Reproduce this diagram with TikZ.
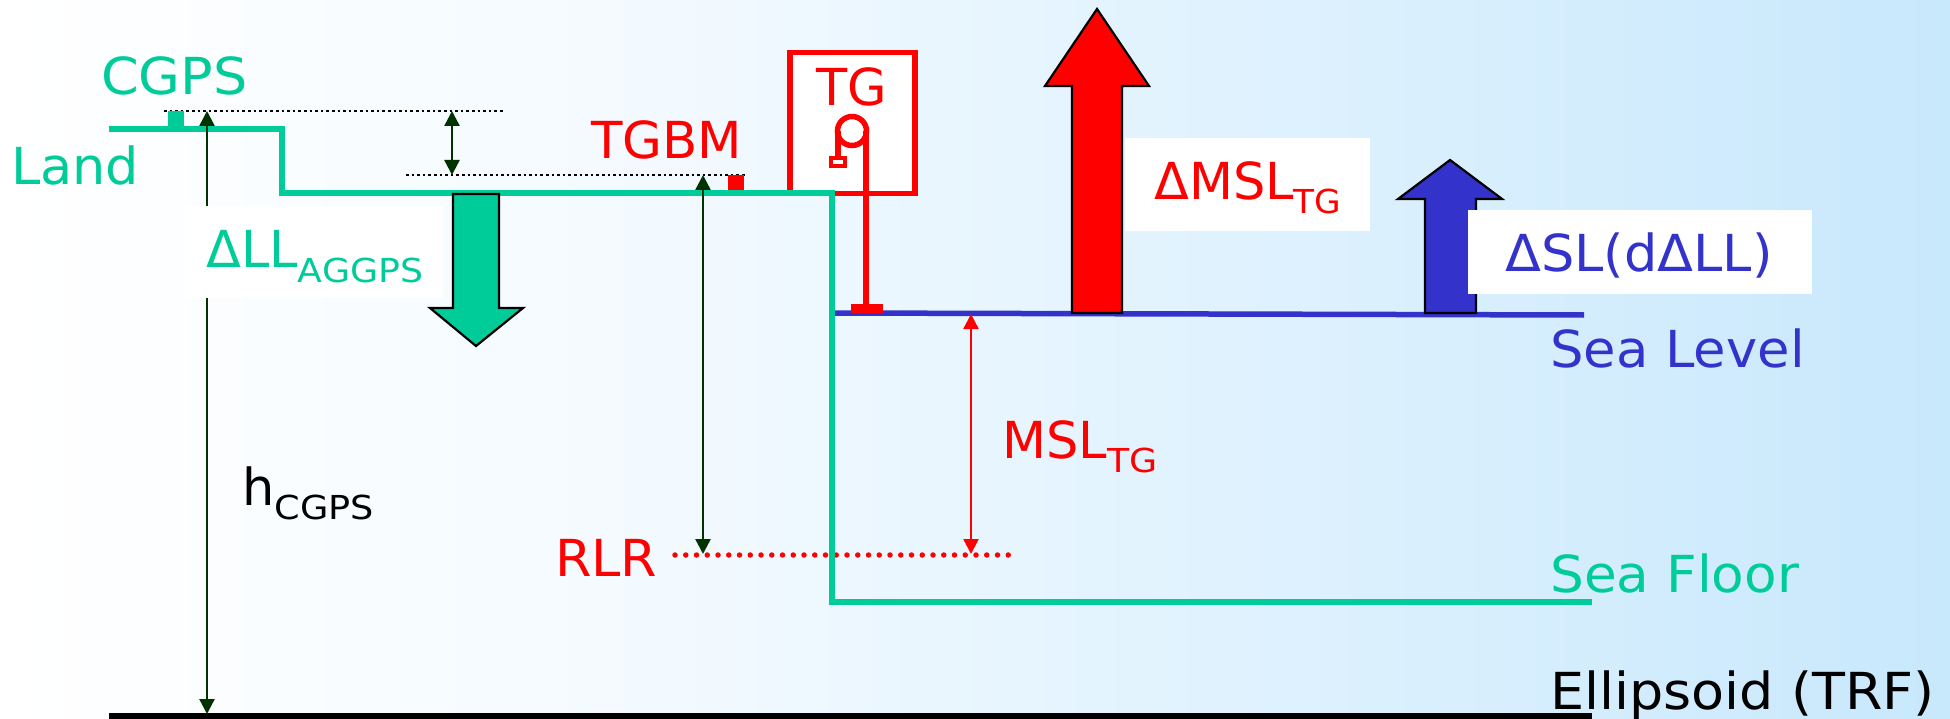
\documentclass[tikz,border=0pt]{standalone}
\usepackage{fontspec}
\setmainfont{DejaVu Sans}
\usetikzlibrary{arrows.meta}
\definecolor{sgreen}{HTML}{00CC99}
\definecolor{sblue}{HTML}{3333CC}
\definecolor{sred}{HTML}{FF0000}
\definecolor{sdark}{HTML}{003300}
\definecolor{b0}{HTML}{FFFFFF}
\definecolor{b1}{HTML}{F3FAFF}
\definecolor{b2}{HTML}{E2F3FE}
\definecolor{b3}{HTML}{C8E8FC}
\newcommand{\bigt}{\fontsize{51}{51}\selectfont}
\newcommand{\subt}[2][1.06]{\raisebox{-14pt}{\scalebox{#1}[1]{\fontsize{33}{33}\selectfont #2}}}
\newcommand{\sx}[2]{\scalebox{#1}[1]{#2}}
\tikzset{
  lbl/.style={anchor=base west,inner sep=0pt,font=\bigt},
  groundline/.style={draw=sgreen,line width=5.5pt,line join=miter},
  bigarrow/.style={draw=black,line width=2.2pt,line join=miter},
  dimdark/.style={draw=sdark,line width=2.4pt,{Triangle[length=15pt,width=15pt]}-{Triangle[length=15pt,width=15pt]}},
  dimred/.style={draw=sred,line width=2.4pt,{Triangle[length=15pt,width=15pt]}-{Triangle[length=15pt,width=15pt]}},
  datum/.style={draw=black,line width=2.5pt,dash pattern=on 2.5pt off 3.1pt},
  patch/.style={fill=white,draw=none},
}
\begin{document}
\begin{tikzpicture}[x=1pt,y=-1pt]
\useasboundingbox (0,0) rectangle (1950,719);
% background
\fill[left color=b0,right color=b1] (0,0) rectangle (650,719);
\fill[left color=b1,right color=b2] (650,0) rectangle (1150,719);
\fill[left color=b2,right color=b3] (1150,0) rectangle (1950,719);
% coordinates
\coordinate (cgpsTop) at (207,111);
\coordinate (ellBase) at (207,714);
\coordinate (smallTop) at (452,111);
\coordinate (smallBot) at (452,175);
\coordinate (tgbmTop) at (703,175);
\coordinate (rlrA) at (703,554);
\coordinate (seaTop) at (971,314);
\coordinate (rlrB) at (971,554);
% dotted datums
\coordinate (d1a) at (164,111); \coordinate (d1b) at (505,111);
\coordinate (d2a) at (406,175); \coordinate (d2b) at (747,175);
\coordinate (d3a) at (675,555); \coordinate (d3b) at (1013,555);
\draw[datum] (d1a) -- (d1b);
\draw[datum] (d2a) -- (d2b);
\draw[draw=sred,line width=5.5pt,line cap=round,dash pattern=on 0pt off 10.75pt] (d3a) -- (d3b);
% ellipsoid
\coordinate (e1) at (109,715.5); \coordinate (e2) at (1592,715.5);
\draw[black,line width=6pt] (e1) -- (e2);
% sea level
\coordinate (s1) at (834,313); \coordinate (s2) at (1584,315);
\draw[sblue,line width=5.5pt] (s1) -- (s2);
% TG box
\node[draw=sred,fill=white,line width=5.5pt,minimum width=125pt,minimum height=141pt,inner sep=0pt,anchor=north west] (tgbox) at (787,50) {};
% pulley
\node[draw=sred,line width=5.5pt,circle,minimum size=29pt,inner sep=0pt] (pulley) at (852,131) {};
\coordinate (pL) at (838,131); \coordinate (pR) at (866,131);
\coordinate (wBot) at (838,158); \coordinate (fTop) at (866,306);
\node[draw=sred,fill=white,line width=4pt,minimum width=14pt,minimum height=8pt,inner sep=0pt] (weight) at (838,162) {};
\draw[sred,line width=5.5pt] (pL) -- (wBot);
\draw[sred,line width=6pt] (pR) -- (fTop);
\node[fill=sred,minimum width=32pt,minimum height=9pt,inner sep=0pt] (foot) at (867,308.5) {};
% markers
\node[fill=sgreen,minimum width=16pt,minimum height=16pt,inner sep=0pt,anchor=north west] (cgpsMark) at (168,111) {};
\node[fill=sred,minimum width=16pt,minimum height=16pt,inner sep=0pt,anchor=north west] (tgbmMark) at (728,175) {};
% ground
\coordinate (g0) at (109,129); \coordinate (g1) at (282,129); \coordinate (g2) at (282,193);
\coordinate (g3) at (832,193); \coordinate (g4) at (832,602); \coordinate (g5) at (1592,602);
\draw[groundline] (g0) -- (g1) -- (g2) -- (g3) -- (g4) -- (g5);
% dimension arrows
\draw[dimdark] (cgpsTop) -- (ellBase);
\draw[dimdark] (smallTop) -- (smallBot);
\draw[dimdark] (tgbmTop) -- (rlrA);
\draw[dimred] (seaTop) -- (rlrB);
% white patches
\node[patch,minimum width=259pt,minimum height=92pt,inner sep=0pt,anchor=north west] (p1) at (184,206) {};
\node[patch,minimum width=245pt,minimum height=93pt,inner sep=0pt,anchor=north west] (p2) at (1125,138) {};
% big arrows
\filldraw[bigarrow,fill=sgreen] (453,194) -- (499,194) -- (499,308) -- (523,308) -- (476,346) -- (430,308) -- (453,308) -- cycle;
\filldraw[bigarrow,fill=sred] (1072,313) -- (1072,86) -- (1045,86) -- (1097,9) -- (1149,86) -- (1122,86) -- (1122,313) -- cycle;
\filldraw[bigarrow,fill=sblue] (1425,313) -- (1425,199) -- (1398,199) -- (1450,160) -- (1502,199) -- (1476,199) -- (1476,313) -- cycle;
\node[patch,minimum width=344pt,minimum height=84pt,inner sep=0pt,anchor=north west] (p3) at (1468,210) {};
% labels
\node[lbl,text=sgreen] (tCGPS) at (101,95) {\sx{1.06}{CGPS}};
\node[lbl,text=sgreen] (tLand) at (11,185) {\sx{1.03}{Land}};
\node[lbl,text=sgreen] (tDLL) at (206,268) {ΔLL\subt[1.1]{AGGPS}};
\node[lbl,text=sred] (tTGBM) at (591,159) {\sx{1.01}{TGBM}};
\node[lbl,text=sred] (tTG) at (816,106) {TG};
\node[lbl,text=sred] (tDMSL) at (1154,200) {ΔMSL\subt[1.04]{TG}};
\node[lbl,text=sblue] (tDSL) at (1505,271) {\sx{1.03}{ΔSL(dΔLL)}};
\node[lbl,text=sblue] (tSea) at (1550,367) {\sx{1.035}{Sea Level}};
\node[lbl,text=sgreen] (tFloor) at (1550,592) {\sx{1.045}{Sea Floor}};
\node[lbl,text=black] (tEll) at (1550,709) {\sx{1.058}{Ellipsoid (TRF)}};
\node[lbl,text=sred] (tRLR) at (555,576) {\sx{1.03}{RLR}};
\node[lbl,text=sred] (tMSL) at (1002,458) {MSL\subt[1.1]{TG}};
\node[lbl,text=black] (tH) at (242,505) {h\subt[1.11]{CGPS}};
\end{tikzpicture}
\end{document}
